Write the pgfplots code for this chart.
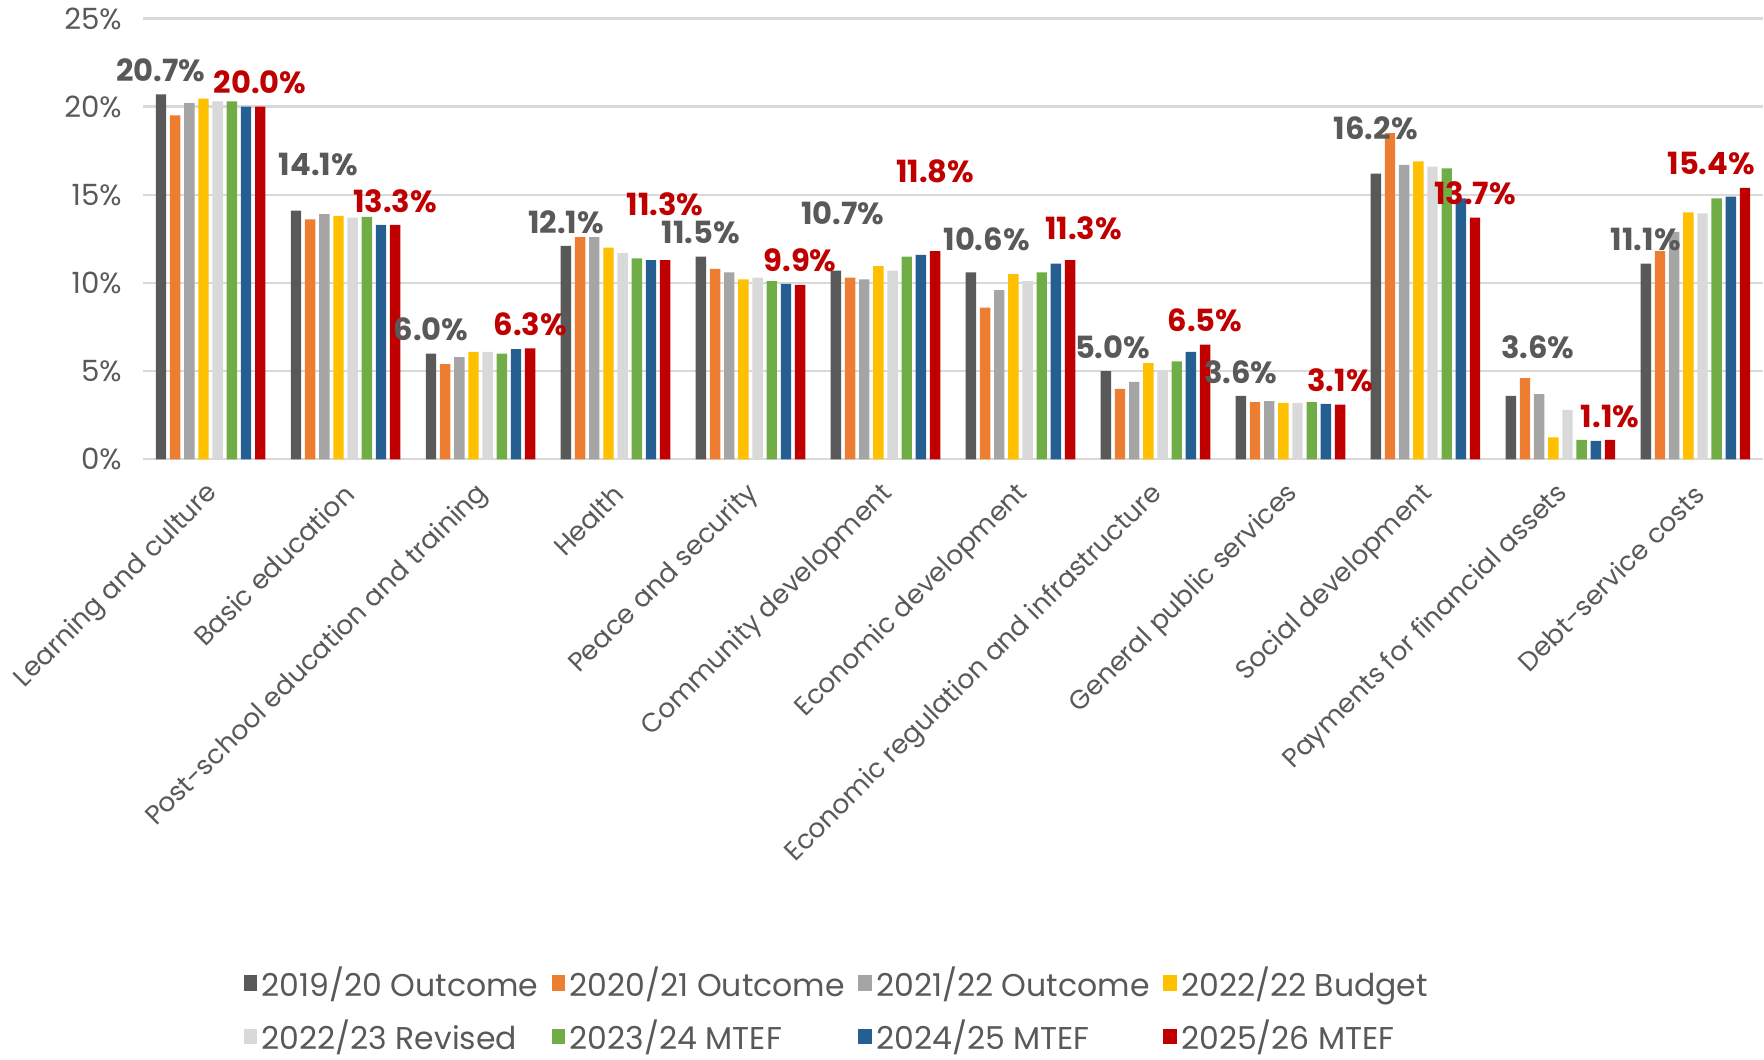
\documentclass[border=0pt]{standalone}
\usepackage{pgfplots}
\pgfplotsset{compat=1.18}
\usepackage{pgfplotstable}
\usepackage{fontspec}
\setmainfont{Poppins}

\definecolor{sA}{HTML}{595959}
\definecolor{sB}{HTML}{ED7D31}
\definecolor{sC}{HTML}{A5A5A5}
\definecolor{sD}{HTML}{FFC000}
\definecolor{sE}{HTML}{D9D9D9}
\definecolor{sF}{HTML}{70AD47}
\definecolor{sG}{HTML}{255E91}
\definecolor{sH}{HTML}{C00000}
\definecolor{gridc}{HTML}{D9D9D9}
\definecolor{txt}{HTML}{595959}

% shares by function; dxa/dya and dxb/dyb move the first and last labels (pt)
\pgfplotstableread{
x  s1   s2    s3   s4    s5    s6    s7    s8   dxa dya dxb dyb
0  20.7 19.5  20.2 20.45 20.3  20.3  20.0  20.0 0   0   0   0
1  14.1 13.6  13.9 13.8  13.7  13.75 13.3  13.3 10  10  0   0
2  6.0  5.4   5.8  6.1   6.1   6.0   6.25  6.3  0   0   0   0
3  12.1 12.6  12.6 12.0  11.7  11.4  11.3  11.3 0   0   0   14
4  11.5 10.8  10.6 10.2  10.3  10.1  9.95  9.9  0   0   0   0
5  10.7 10.3  10.2 10.95 10.7  11.5  11.6  11.8 3   15  0   25
6  10.6 8.6   9.6  10.5  10.1  10.6  11.1  11.3 7   4   6   3.5
7  5.0  4.0   4.4  5.45  5.0   5.55  6.1   6.5  3   0   0   0
8  3.6  3.25  3.3  3.2   3.2   3.25  3.15  3.1  0   0   0   0
9  16.2 18.5  16.7 16.9  16.6  16.5  14.8  13.7 0   9.5 0   0
10 3.6  4.6   3.7  1.25  2.8   1.1   1.05  1.1  12  11  0   0
11 11.1 11.8  12.9 14.0  13.95 14.8  14.9  15.4 0   0   -15 0
}\shares

\begin{document}
\begin{tikzpicture}

\begin{axis}[
  width=720pt,
  height=196pt,
  scale only axis,
  clip=false,
  ybar,
  bar width=0.077,
  xmin=-0.5, xmax=11.5,
  ymin=0, ymax=25,
  ytick={0,5,10,15,20,25},
  yticklabels={0\%,5\%,10\%,15\%,20\%,25\%},
  xtick={0,1,...,11},
  xticklabels={Learning and culture,Basic education,Post-school education and training,Health,Peace and security,Community development,Economic development,Economic regulation and infrastructure,General public services,Social development,Payments for financial assets,Debt-service costs},
  ymajorgrids,
  grid style={draw=gridc, line width=1pt},
  axis line style={draw=none},
  major tick length=0pt,
  tick label style={text=txt},
  yticklabel style={font=\fontsize{13}{15}\selectfont, xshift=-6pt},
  xticklabel style={xshift=4pt, yshift=-11pt, rotate=45, anchor=east, font=\fontsize{11.8}{14}\selectfont},
  legend image code/.code={\fill[#1] (0pt,-3.5pt) rectangle (6pt,3.5pt);},
  legend style={at={(0.429,-1.134)}, anchor=north, draw=none, fill=none,
    inner sep=1pt, row sep=5pt,
    legend columns=4, font=\fontsize{14}{16}\selectfont, text=txt,
    /tikz/every even column/.append style={column sep=4pt},
    /tikz/every odd column/.append style={column sep=0pt}},
  legend cell align=left,
  every node near coord/.append style={font=\bfseries\fontsize{13.6}{15}\selectfont},
]
\addplot[fill=sA, draw=none, bar shift=-0.3675] table[x=x, y=s1] {\shares};
\addlegendentry{2019/20 Outcome}
\addplot[fill=sB, draw=none, bar shift=-0.2625] table[x=x, y=s2] {\shares};
\addlegendentry{2020/21 Outcome}
\addplot[fill=sC, draw=none, bar shift=-0.1575] table[x=x, y=s3] {\shares};
\addlegendentry{2021/22 Outcome}
\addplot[fill=sD, draw=none, bar shift=-0.0525] table[x=x, y=s4] {\shares};
\addlegendentry{2022/22 Budget}
\addplot[fill=sE, draw=none, bar shift=0.0525] table[x=x, y=s5] {\shares};
\addlegendentry{2022/23 Revised}
\addplot[fill=sF, draw=none, bar shift=0.1575] table[x=x, y=s6] {\shares};
\addlegendentry{2023/24 MTEF}
\addplot[fill=sG, draw=none, bar shift=0.2625] table[x=x, y=s7] {\shares};
\addlegendentry{2024/25 MTEF}
\addplot[fill=sH, draw=none, bar shift=0.3675] table[x=x, y=s8] {\shares};
\addlegendentry{2025/26 MTEF}

% value labels, drawn last so they sit over the bars
\addplot[forget plot, draw=none, fill=none, bar shift=-0.3675,
  visualization depends on={\thisrow{dxa} \as \dx},
  visualization depends on={\thisrow{dya} \as \dy},
  nodes near coords={\pgfmathprintnumber[fixed,fixed zerofill,precision=1,assume math mode=true]{\pgfplotspointmeta}\%},
  every node near coord/.append style={text=sA, xshift=\dx pt, yshift={(\dy+2)*1pt}}]
  table[x=x, y=s1] {\shares};
\addplot[forget plot, draw=none, fill=none, bar shift=0.3675,
  visualization depends on={\thisrow{dxb} \as \dx},
  visualization depends on={\thisrow{dyb} \as \dy},
  nodes near coords={\pgfmathprintnumber[fixed,fixed zerofill,precision=1,assume math mode=true]{\pgfplotspointmeta}\%},
  every node near coord/.append style={text=sH, xshift=\dx pt, yshift={(\dy+2)*1pt}}]
  table[x=x, y=s8] {\shares};
\end{axis}

\end{tikzpicture}
\end{document}
